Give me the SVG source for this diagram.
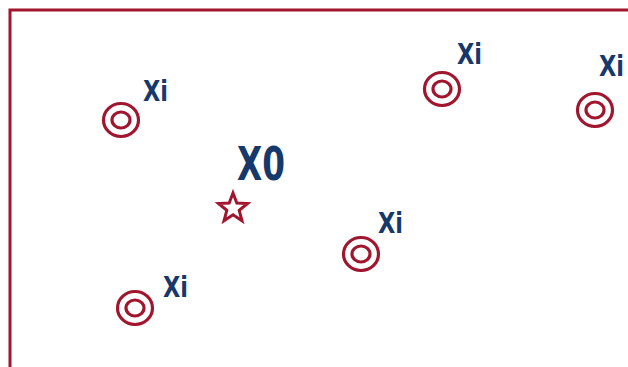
<svg xmlns="http://www.w3.org/2000/svg" width="628" height="367" viewBox="0 0 628 367">
<style>
.ring{fill:none;stroke:#a1162e;stroke-width:3.2}
.lbl{font-family:"DejaVu Sans Condensed","DejaVu Sans",sans-serif;font-weight:bold;fill:#17386a;font-size:29px}
.big{font-size:47px}
</style>
<defs>
<g id="target">
<ellipse class="ring" cx="0" cy="0" rx="17.5" ry="16.5"/>
<ellipse class="ring" cx="0" cy="0" rx="9" ry="8"/>
</g>
</defs>
<rect x="0" y="0" width="628" height="367" fill="#ffffff"/>
<rect x="10" y="10" width="640" height="400" fill="none" stroke="#a1162e" stroke-width="3"/>
<g id="x0">
<polygon points="233,193 236.8,203 247.5,203.5 239.2,210.3 242,220.8 233,214.8 224,220.8 226.8,210.3 218.5,203.5 229.2,203" fill="#ffffff" stroke="#a1162e" stroke-width="3" stroke-linejoin="miter"/>
<text class="lbl big" x="237" y="180" textLength="48" lengthAdjust="spacingAndGlyphs">X0</text>
</g>
<g id="xi1"><use href="#target" x="121" y="120"/><text class="lbl" x="143" y="101" textLength="25" lengthAdjust="spacingAndGlyphs">Xi</text></g>
<g id="xi2"><use href="#target" x="442" y="89"/><text class="lbl" x="457" y="64" textLength="25" lengthAdjust="spacingAndGlyphs">Xi</text></g>
<g id="xi3"><use href="#target" x="595" y="110"/><text class="lbl" x="599" y="76" textLength="25" lengthAdjust="spacingAndGlyphs">Xi</text></g>
<g id="xi4"><use href="#target" x="361" y="254"/><text class="lbl" x="378" y="233" textLength="25" lengthAdjust="spacingAndGlyphs">Xi</text></g>
<g id="xi5"><use href="#target" x="135" y="308"/><text class="lbl" x="163" y="297" textLength="25" lengthAdjust="spacingAndGlyphs">Xi</text></g>
<g id="connectors"/>
</svg>
